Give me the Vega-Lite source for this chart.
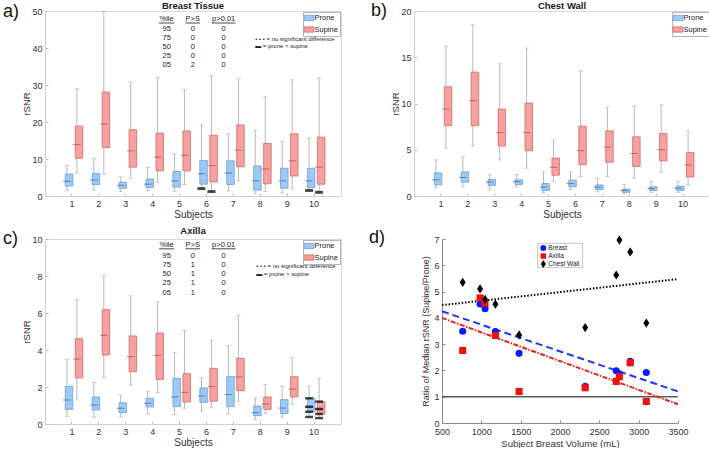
{
  "$schema": "https://vega.github.io/schema/vega-lite/v6.json",
  "padding": {"left": 2, "top": 0, "right": 0, "bottom": 0},
  "config": {
    "font": "Liberation Sans",
    "view": {"stroke": "#d9d9d9"},
    "title": {"fontSize": 9.5, "fontWeight": "bold", "color": "#1a1a1a", "frame": "group"},
    "axis": {"grid": false, "labelOverlap": false, "labelFontSize": 9, "titleFontSize": 10, "titleFontWeight": "normal", "labelColor": "#333333", "titleColor": "#333333", "domainColor": "#cfcfcf", "tickColor": "#bdbdbd", "tickSize": -3, "labelPadding": 6, "titlePadding": 1},
    "axisY": {"titleFontSize": 9.5, "titlePadding": 0},
    "legend": {"labelFontSize": 7.5, "labelColor": "#1a1a1a", "padding": 2, "rowPadding": 1.5, "strokeColor": "#b5b5b5", "fillColor": "#ffffff", "labelOffset": 1.5}
  },
  "datasets": {
    "breast": [
      {"subject": 1, "position": "Prone", "lo": 1.5, "q1": 2.7, "med": 4.0, "q3": 5.9, "hi": 8.3},
      {"subject": 1, "position": "Supine", "lo": 6.2, "q1": 10.2, "med": 13.9, "q3": 18.9, "hi": 29.0},
      {"subject": 2, "position": "Prone", "lo": 1.6, "q1": 3.1, "med": 4.3, "q3": 6.1, "hi": 10.1},
      {"subject": 2, "position": "Supine", "lo": 5.9, "q1": 13.1, "med": 19.5, "q3": 28.1, "hi": 50.0},
      {"subject": 3, "position": "Prone", "lo": 1.2, "q1": 2.1, "med": 2.9, "q3": 3.7, "hi": 5.2},
      {"subject": 3, "position": "Supine", "lo": 4.7, "q1": 7.8, "med": 12.2, "q3": 17.9, "hi": 30.8},
      {"subject": 4, "position": "Prone", "lo": 1.4, "q1": 2.3, "med": 3.2, "q3": 4.6, "hi": 7.7},
      {"subject": 4, "position": "Supine", "lo": 3.7, "q1": 6.8, "med": 10.5, "q3": 17.0, "hi": 32.0},
      {"subject": 5, "position": "Prone", "lo": 1.2, "q1": 2.4, "med": 4.1, "q3": 6.6, "hi": 11.4},
      {"subject": 5, "position": "Supine", "lo": 3.1, "q1": 6.8, "med": 11.0, "q3": 17.6, "hi": 28.8},
      {"subject": 6, "position": "Prone", "lo": 2.0, "q1": 3.2, "med": 6.0, "q3": 9.6, "hi": 19.2},
      {"subject": 6, "position": "Supine", "lo": 1.2, "q1": 3.8, "med": 8.2, "q3": 16.4, "hi": 32.5},
      {"subject": 7, "position": "Prone", "lo": 1.4, "q1": 3.1, "med": 6.2, "q3": 9.5, "hi": 16.8},
      {"subject": 7, "position": "Supine", "lo": 4.1, "q1": 7.9, "med": 12.4, "q3": 19.2, "hi": 31.7},
      {"subject": 8, "position": "Prone", "lo": 0.6, "q1": 1.6, "med": 4.1, "q3": 8.1, "hi": 17.8},
      {"subject": 8, "position": "Supine", "lo": 1.2, "q1": 3.3, "med": 7.3, "q3": 14.2, "hi": 26.8},
      {"subject": 9, "position": "Prone", "lo": 0.8, "q1": 2.1, "med": 4.1, "q3": 7.5, "hi": 14.7},
      {"subject": 9, "position": "Supine", "lo": 1.9, "q1": 5.4, "med": 9.5, "q3": 16.8, "hi": 31.4},
      {"subject": 10, "position": "Prone", "lo": 1.5, "q1": 2.3, "med": 4.1, "q3": 7.5, "hi": 15.6},
      {"subject": 10, "position": "Supine", "lo": 1.0, "q1": 3.2, "med": 7.8, "q3": 15.9, "hi": 31.9}
    ],
    "chest": [
      {"subject": 1, "position": "Prone", "lo": 0.9, "q1": 1.2, "med": 1.75, "q3": 2.5, "hi": 3.9},
      {"subject": 1, "position": "Supine", "lo": 5.2, "q1": 7.6, "med": 9.4, "q3": 11.8, "hi": 16.2},
      {"subject": 2, "position": "Prone", "lo": 1.0, "q1": 1.5, "med": 2.0, "q3": 2.6, "hi": 4.25},
      {"subject": 2, "position": "Supine", "lo": 5.4, "q1": 7.6, "med": 10.3, "q3": 13.4, "hi": 18.5},
      {"subject": 3, "position": "Prone", "lo": 0.65, "q1": 1.15, "med": 1.5, "q3": 1.8, "hi": 2.3},
      {"subject": 3, "position": "Supine", "lo": 3.9, "q1": 5.4, "med": 6.85, "q3": 9.4, "hi": 14.3},
      {"subject": 4, "position": "Prone", "lo": 1.0, "q1": 1.25, "med": 1.55, "q3": 1.75, "hi": 2.3},
      {"subject": 4, "position": "Supine", "lo": 3.0, "q1": 4.9, "med": 6.85, "q3": 10.05, "hi": 16.0},
      {"subject": 5, "position": "Prone", "lo": 0.35, "q1": 0.6, "med": 0.95, "q3": 1.35, "hi": 2.6},
      {"subject": 5, "position": "Supine", "lo": 1.55, "q1": 2.25, "med": 3.1, "q3": 4.1, "hi": 6.05},
      {"subject": 6, "position": "Prone", "lo": 0.7, "q1": 1.0, "med": 1.35, "q3": 1.7, "hi": 2.6},
      {"subject": 6, "position": "Supine", "lo": 2.1, "q1": 3.4, "med": 4.9, "q3": 7.55, "hi": 13.55},
      {"subject": 7, "position": "Prone", "lo": 0.45, "q1": 0.7, "med": 0.95, "q3": 1.2, "hi": 1.9},
      {"subject": 7, "position": "Supine", "lo": 2.1, "q1": 3.65, "med": 5.3, "q3": 7.05, "hi": 9.6},
      {"subject": 8, "position": "Prone", "lo": 0.25, "q1": 0.4, "med": 0.6, "q3": 0.75, "hi": 1.25},
      {"subject": 8, "position": "Supine", "lo": 1.95, "q1": 3.2, "med": 4.6, "q3": 6.4, "hi": 9.7},
      {"subject": 9, "position": "Prone", "lo": 0.35, "q1": 0.6, "med": 0.8, "q3": 1.0, "hi": 1.55},
      {"subject": 9, "position": "Supine", "lo": 2.6, "q1": 3.8, "med": 5.0, "q3": 6.75, "hi": 9.85},
      {"subject": 10, "position": "Prone", "lo": 0.4, "q1": 0.6, "med": 0.85, "q3": 1.05, "hi": 1.6},
      {"subject": 10, "position": "Supine", "lo": 1.2, "q1": 2.05, "med": 3.35, "q3": 4.7, "hi": 7.05}
    ],
    "axilla": [
      {"subject": 1, "position": "Prone", "lo": 0.41, "q1": 0.79, "med": 1.30, "q3": 2.04, "hi": 3.48},
      {"subject": 1, "position": "Supine", "lo": 1.30, "q1": 2.49, "med": 3.51, "q3": 4.61, "hi": 6.72},
      {"subject": 2, "position": "Prone", "lo": 0.36, "q1": 0.76, "med": 1.03, "q3": 1.46, "hi": 2.25},
      {"subject": 2, "position": "Supine", "lo": 2.52, "q1": 3.73, "med": 4.79, "q3": 6.18, "hi": 8.04},
      {"subject": 3, "position": "Prone", "lo": 0.38, "q1": 0.61, "med": 0.85, "q3": 1.15, "hi": 1.57},
      {"subject": 3, "position": "Supine", "lo": 2.11, "q1": 2.83, "med": 3.64, "q3": 4.76, "hi": 6.92},
      {"subject": 4, "position": "Prone", "lo": 0.54, "q1": 0.92, "med": 1.12, "q3": 1.39, "hi": 1.77},
      {"subject": 4, "position": "Supine", "lo": 1.69, "q1": 2.41, "med": 3.71, "q3": 4.92, "hi": 6.59},
      {"subject": 5, "position": "Prone", "lo": 0.50, "q1": 0.94, "med": 1.46, "q3": 2.47, "hi": 3.87},
      {"subject": 5, "position": "Supine", "lo": 0.85, "q1": 1.19, "med": 1.71, "q3": 2.72, "hi": 5.05},
      {"subject": 6, "position": "Prone", "lo": 0.70, "q1": 1.17, "med": 1.51, "q3": 1.95, "hi": 2.50},
      {"subject": 6, "position": "Supine", "lo": 0.88, "q1": 1.23, "med": 2.02, "q3": 3.01, "hi": 4.52},
      {"subject": 7, "position": "Prone", "lo": 0.54, "q1": 0.94, "med": 1.59, "q3": 2.56, "hi": 4.25},
      {"subject": 7, "position": "Supine", "lo": 1.21, "q1": 1.80, "med": 2.54, "q3": 3.55, "hi": 5.87},
      {"subject": 8, "position": "Prone", "lo": 0.25, "q1": 0.45, "med": 0.61, "q3": 0.97, "hi": 1.41},
      {"subject": 8, "position": "Supine", "lo": 0.56, "q1": 0.79, "med": 1.08, "q3": 1.46, "hi": 2.14},
      {"subject": 9, "position": "Prone", "lo": 0.36, "q1": 0.56, "med": 0.86, "q3": 1.32, "hi": 2.04},
      {"subject": 9, "position": "Supine", "lo": 1.05, "q1": 1.46, "med": 1.89, "q3": 2.56, "hi": 3.60},
      {"subject": 10, "position": "Prone", "lo": 0.38, "q1": 0.66, "med": 0.93, "q3": 1.39, "hi": 2.05},
      {"subject": 10, "position": "Supine", "lo": 0.32, "q1": 0.54, "med": 0.81, "q3": 1.21, "hi": 2.48}
    ],
    "flagsA": [
      {"subject": 6, "position": "Prone", "value": 2.0},
      {"subject": 6, "position": "Supine", "value": 1.2},
      {"subject": 10, "position": "Prone", "value": 1.5},
      {"subject": 10, "position": "Supine", "value": 1.0}
    ],
    "flagsC": [
      {"subject": 10, "position": "Prone", "value": 1.39},
      {"subject": 10, "position": "Prone", "value": 0.93},
      {"subject": 10, "position": "Prone", "value": 0.66},
      {"subject": 10, "position": "Prone", "value": 0.38},
      {"subject": 10, "position": "Supine", "value": 1.21},
      {"subject": 10, "position": "Supine", "value": 0.81},
      {"subject": 10, "position": "Supine", "value": 0.54},
      {"subject": 10, "position": "Supine", "value": 0.32}
    ],
    "tableA": [
      {"col": "%ile", "cells": ["95", "75", "50", "25", "05"]},
      {"col": "P>S", "cells": ["0", "0", "0", "0", "2"]},
      {"col": "p>0.01", "cells": ["0", "0", "0", "0", "0"]}
    ],
    "tableC": [
      {"col": "%ile", "cells": ["95", "75", "50", "25", "05"]},
      {"col": "P>S", "cells": ["0", "1", "1", "1", "1"]},
      {"col": "p>0.01", "cells": ["0", "0", "0", "0", "0"]}
    ],
    "notes": [
      {"key": "ns", "note": "• • • = no significant difference"},
      {"key": "ps", "note": "▬ = prone > supine"}
    ],
    "panels": [{"panel": "a)"}, {"panel": "b)"}, {"panel": "c)"}, {"panel": "d)"}],
    "keyD": [{"region": "Breast"}, {"region": "Axilla"}, {"region": "Chest Wall"}],
    "ratio": [
      {"region": "Breast", "volume": 763, "ratio": 3.49},
      {"region": "Breast", "volume": 984, "ratio": 4.53},
      {"region": "Breast", "volume": 1047, "ratio": 4.35},
      {"region": "Breast", "volume": 1179, "ratio": 3.48},
      {"region": "Breast", "volume": 1480, "ratio": 2.65},
      {"region": "Breast", "volume": 2320, "ratio": 1.40},
      {"region": "Breast", "volume": 2715, "ratio": 1.99},
      {"region": "Breast", "volume": 2755, "ratio": 1.87},
      {"region": "Breast", "volume": 2893, "ratio": 2.35},
      {"region": "Breast", "volume": 3097, "ratio": 1.92},
      {"region": "Axilla", "volume": 763, "ratio": 2.76},
      {"region": "Axilla", "volume": 984, "ratio": 4.76},
      {"region": "Axilla", "volume": 1047, "ratio": 4.56},
      {"region": "Axilla", "volume": 1179, "ratio": 3.33},
      {"region": "Axilla", "volume": 1480, "ratio": 1.20},
      {"region": "Axilla", "volume": 2320, "ratio": 1.34},
      {"region": "Axilla", "volume": 2715, "ratio": 1.58},
      {"region": "Axilla", "volume": 2755, "ratio": 1.76},
      {"region": "Axilla", "volume": 2893, "ratio": 2.29},
      {"region": "Axilla", "volume": 3097, "ratio": 0.82},
      {"region": "Chest Wall", "volume": 763, "ratio": 5.35},
      {"region": "Chest Wall", "volume": 984, "ratio": 5.10},
      {"region": "Chest Wall", "volume": 1047, "ratio": 4.70},
      {"region": "Chest Wall", "volume": 1179, "ratio": 4.52},
      {"region": "Chest Wall", "volume": 1480, "ratio": 3.35},
      {"region": "Chest Wall", "volume": 2320, "ratio": 3.63},
      {"region": "Chest Wall", "volume": 2715, "ratio": 5.63},
      {"region": "Chest Wall", "volume": 2755, "ratio": 6.96},
      {"region": "Chest Wall", "volume": 2893, "ratio": 6.51},
      {"region": "Chest Wall", "volume": 3097, "ratio": 3.80}
    ],
    "reference": [{"ratio": 1}]
  },
  "resolve": {
    "scale": {"x": "independent", "y": "independent", "xOffset": "independent", "fill": "independent", "stroke": "independent", "color": "independent", "shape": "independent", "strokeDash": "independent"},
    "legend": {"fill": "independent", "stroke": "independent", "color": "independent", "shape": "independent", "strokeDash": "independent"}
  },
  "spacing": 5,
  "vconcat": [
    {
      "bounds": "flush",
      "spacing": 73,
      "resolve": {
        "scale": {"x": "independent", "y": "independent", "xOffset": "independent", "fill": "independent", "stroke": "independent", "color": "independent", "shape": "independent", "strokeDash": "independent"},
        "legend": {"fill": "independent", "stroke": "independent", "color": "independent", "shape": "independent", "strokeDash": "independent"}
      },
      "hconcat": [
        {
          "width": 296,
          "height": 185,
          "title": {"text": "Breast Tissue", "offset": -7.8},
          "resolve": {"scale": {"x": "independent", "y": "independent"}},
          "layer": [
            {
              "data": {"name": "breast"},
              "encoding": {
                "x": {"field": "subject", "type": "ordinal", "title": "Subjects", "scale": {"paddingInner": 0, "paddingOuter": 0.5}, "axis": {"labelAngle": 0, "tickBand": "center", "labelOverlap": false}},
                "xOffset": {"field": "position", "type": "nominal", "scale": {"domain": ["Prone", "Supine"], "paddingInner": 0, "paddingOuter": 0.345}}
              },
              "layer": [
                {"mark": {"type": "rule", "color": "#b9b9b9", "strokeWidth": 1},
                 "encoding": {"y": {"field": "lo", "type": "quantitative", "title": "rSNR", "scale": {"domain": [0, 50], "nice": false}, "axis": {"values": [0, 10, 20, 30, 40, 50], "tickCount": 20, "format": "d", "labelOverlap": false}}, "y2": {"field": "hi"}}},
                {"mark": {"type": "tick", "orient": "horizontal", "size": 4.5, "thickness": 1, "color": "#b9b9b9"},
                 "encoding": {"y": {"field": "lo", "type": "quantitative", "title": "rSNR"}}},
                {"mark": {"type": "tick", "orient": "horizontal", "size": 4.5, "thickness": 1, "color": "#b9b9b9"},
                 "encoding": {"y": {"field": "hi", "type": "quantitative", "title": "rSNR"}}},
                {"mark": {"type": "bar", "width": {"band": 0.75}, "strokeWidth": 0.8},
                 "encoding": {
                   "y": {"field": "q1", "type": "quantitative", "title": "rSNR"}, "y2": {"field": "q3"},
                   "fill": {"field": "position", "type": "nominal", "scale": {"domain": ["Prone", "Supine"], "range": ["#9dc9f2", "#f6a0a0"]}, "legend": {"title": null, "orient": "top-right", "offset": 1, "symbolType": "M-1.4,-0.75H1.4V0.75H-1.4Z", "symbolSize": 49, "symbolStrokeWidth": 0.8, "rowPadding": 1.5}},
                   "stroke": {"field": "position", "type": "nominal", "scale": {"domain": ["Prone", "Supine"], "range": ["#6c9fd6", "#d06a6a"]}, "legend": {"title": null, "orient": "top-right", "offset": 1, "symbolType": "M-1.4,-0.75H1.4V0.75H-1.4Z", "symbolSize": 49, "symbolStrokeWidth": 0.8, "rowPadding": 1.5}}
                 }},
                {"mark": {"type": "tick", "orient": "horizontal", "size": 7.5, "thickness": 1.1},
                 "encoding": {"y": {"field": "med", "type": "quantitative", "title": "rSNR"}, "color": {"field": "position", "type": "nominal", "scale": {"domain": ["Prone", "Supine"], "range": ["#3b6ea5", "#b84c4c"]}, "legend": null}}},
                {"data": {"name": "flagsA"}, "mark": {"type": "tick", "orient": "horizontal", "size": 8, "thickness": 3, "color": "#000000"},
                 "encoding": {"y": {"field": "value", "type": "quantitative", "title": "rSNR"}}}
              ]
            },
            {
              "layer": [
                {"data": {"name": "tableA"}, "transform": [{"filter": "datum.col === '%ile'"}],
                 "layer": [
                   {"mark": {"type": "text", "fontSize": 7.5, "align": "center", "baseline": "middle", "color": "#1a1a1a"},
                    "encoding": {"x": {"datum": 4.52, "type": "quantitative", "scale": {"domain": [0, 11], "nice": false, "zero": false}, "axis": null}, "y": {"datum": 47.84, "type": "quantitative", "scale": {"domain": [0, 50], "nice": false}, "axis": null}, "text": {"field": "col"}}},
                   {"mark": {"type": "text", "fontSize": 7.5, "align": "center", "baseline": "top", "lineHeight": 9, "color": "#1a1a1a"},
                    "encoding": {"x": {"datum": 4.52, "type": "quantitative", "scale": {"domain": [0, 11], "nice": false, "zero": false}, "axis": null}, "y": {"datum": 46.27, "type": "quantitative", "scale": {"domain": [0, 50], "nice": false}, "axis": null}, "text": {"field": "cells"}}},
                   {"mark": {"type": "rule", "color": "#1a1a1a", "strokeWidth": 0.8},
                    "encoding": {"x": {"datum": 4.24, "type": "quantitative", "scale": {"domain": [0, 11], "nice": false, "zero": false}, "axis": null}, "x2": {"datum": 4.8}, "y": {"datum": 46.76, "type": "quantitative", "scale": {"domain": [0, 50], "nice": false}, "axis": null}}}
                 ]},
                {"data": {"name": "tableA"}, "transform": [{"filter": "datum.col === 'P>S'"}],
                 "layer": [
                   {"mark": {"type": "text", "fontSize": 7.5, "align": "center", "baseline": "middle", "color": "#1a1a1a"},
                    "encoding": {"x": {"datum": 5.49, "type": "quantitative", "scale": {"domain": [0, 11], "nice": false, "zero": false}, "axis": null}, "y": {"datum": 47.84, "type": "quantitative", "scale": {"domain": [0, 50], "nice": false}, "axis": null}, "text": {"field": "col"}}},
                   {"mark": {"type": "text", "fontSize": 7.5, "align": "center", "baseline": "top", "lineHeight": 9, "color": "#1a1a1a"},
                    "encoding": {"x": {"datum": 5.49, "type": "quantitative", "scale": {"domain": [0, 11], "nice": false, "zero": false}, "axis": null}, "y": {"datum": 46.27, "type": "quantitative", "scale": {"domain": [0, 50], "nice": false}, "axis": null}, "text": {"field": "cells"}}},
                   {"mark": {"type": "rule", "color": "#1a1a1a", "strokeWidth": 0.8},
                    "encoding": {"x": {"datum": 5.22, "type": "quantitative", "scale": {"domain": [0, 11], "nice": false, "zero": false}, "axis": null}, "x2": {"datum": 5.76}, "y": {"datum": 46.76, "type": "quantitative", "scale": {"domain": [0, 50], "nice": false}, "axis": null}}}
                 ]},
                {"data": {"name": "tableA"}, "transform": [{"filter": "datum.col === 'p>0.01'"}],
                 "layer": [
                   {"mark": {"type": "text", "fontSize": 7.5, "align": "center", "baseline": "middle", "color": "#1a1a1a"},
                    "encoding": {"x": {"datum": 6.64, "type": "quantitative", "scale": {"domain": [0, 11], "nice": false, "zero": false}, "axis": null}, "y": {"datum": 47.84, "type": "quantitative", "scale": {"domain": [0, 50], "nice": false}, "axis": null}, "text": {"field": "col"}}},
                   {"mark": {"type": "text", "fontSize": 7.5, "align": "center", "baseline": "top", "lineHeight": 9, "color": "#1a1a1a"},
                    "encoding": {"x": {"datum": 6.64, "type": "quantitative", "scale": {"domain": [0, 11], "nice": false, "zero": false}, "axis": null}, "y": {"datum": 46.27, "type": "quantitative", "scale": {"domain": [0, 50], "nice": false}, "axis": null}, "text": {"field": "cells"}}},
                   {"mark": {"type": "rule", "color": "#1a1a1a", "strokeWidth": 0.8},
                    "encoding": {"x": {"datum": 6.2, "type": "quantitative", "scale": {"domain": [0, 11], "nice": false, "zero": false}, "axis": null}, "x2": {"datum": 7.08}, "y": {"datum": 46.76, "type": "quantitative", "scale": {"domain": [0, 50], "nice": false}, "axis": null}}}
                 ]},
                {"data": {"name": "notes"}, "transform": [{"filter": "datum.key === 'ns'"}],
                 "mark": {"type": "text", "fontSize": 6, "align": "left", "baseline": "middle", "color": "#1a1a1a"},
                 "encoding": {"x": {"datum": 7.81, "type": "quantitative", "scale": {"domain": [0, 11], "nice": false, "zero": false}, "axis": null}, "y": {"datum": 42.4, "type": "quantitative", "scale": {"domain": [0, 50], "nice": false}, "axis": null}, "text": {"field": "note"}}},
                {"data": {"name": "notes"}, "transform": [{"filter": "datum.key === 'ps'"}],
                 "mark": {"type": "text", "fontSize": 6, "align": "left", "baseline": "middle", "color": "#1a1a1a"},
                 "encoding": {"x": {"datum": 7.81, "type": "quantitative", "scale": {"domain": [0, 11], "nice": false, "zero": false}, "axis": null}, "y": {"datum": 40.5, "type": "quantitative", "scale": {"domain": [0, 50], "nice": false}, "axis": null}, "text": {"field": "note"}}},
                {"data": {"name": "panels"}, "transform": [{"filter": "datum.panel === 'a)'"}],
                 "mark": {"type": "text", "fontSize": 18, "align": "left", "baseline": "middle", "color": "#111111"},
                 "encoding": {"x": {"datum": -1.56, "type": "quantitative", "scale": {"domain": [0, 11], "nice": false, "zero": false}, "axis": null}, "y": {"datum": 49.84, "type": "quantitative", "scale": {"domain": [0, 50], "nice": false}, "axis": null}, "text": {"field": "panel"}}}
              ]
            }
          ]
        },
        {
          "width": 296,
          "height": 185,
          "title": {"text": "Chest Wall", "offset": -8.4},
          "resolve": {"scale": {"x": "independent", "y": "independent"}},
          "layer": [
            {
              "data": {"name": "chest"},
              "encoding": {
                "x": {"field": "subject", "type": "ordinal", "title": "Subjects", "scale": {"paddingInner": 0, "paddingOuter": 0.5}, "axis": {"labelAngle": 0, "tickBand": "center", "labelOverlap": false}},
                "xOffset": {"field": "position", "type": "nominal", "scale": {"domain": ["Prone", "Supine"], "paddingInner": 0, "paddingOuter": 0.345}}
              },
              "layer": [
                {"mark": {"type": "rule", "color": "#b9b9b9", "strokeWidth": 1},
                 "encoding": {"y": {"field": "lo", "type": "quantitative", "title": "rSNR", "scale": {"domain": [0, 20], "nice": false}, "axis": {"values": [0, 5, 10, 15, 20], "tickCount": 20, "format": "d", "labelOverlap": false}}, "y2": {"field": "hi"}}},
                {"mark": {"type": "tick", "orient": "horizontal", "size": 4.5, "thickness": 1, "color": "#b9b9b9"},
                 "encoding": {"y": {"field": "lo", "type": "quantitative", "title": "rSNR"}}},
                {"mark": {"type": "tick", "orient": "horizontal", "size": 4.5, "thickness": 1, "color": "#b9b9b9"},
                 "encoding": {"y": {"field": "hi", "type": "quantitative", "title": "rSNR"}}},
                {"mark": {"type": "bar", "width": {"band": 0.75}, "strokeWidth": 0.8},
                 "encoding": {
                   "y": {"field": "q1", "type": "quantitative", "title": "rSNR"}, "y2": {"field": "q3"},
                   "fill": {"field": "position", "type": "nominal", "scale": {"domain": ["Prone", "Supine"], "range": ["#9dc9f2", "#f6a0a0"]}, "legend": {"title": null, "orient": "top-right", "offset": 1, "symbolType": "M-1.4,-0.75H1.4V0.75H-1.4Z", "symbolSize": 49, "symbolStrokeWidth": 0.8, "rowPadding": 1.5}},
                   "stroke": {"field": "position", "type": "nominal", "scale": {"domain": ["Prone", "Supine"], "range": ["#6c9fd6", "#d06a6a"]}, "legend": {"title": null, "orient": "top-right", "offset": 1, "symbolType": "M-1.4,-0.75H1.4V0.75H-1.4Z", "symbolSize": 49, "symbolStrokeWidth": 0.8, "rowPadding": 1.5}}
                 }},
                {"mark": {"type": "tick", "orient": "horizontal", "size": 7.5, "thickness": 1.1},
                 "encoding": {"y": {"field": "med", "type": "quantitative", "title": "rSNR"}, "color": {"field": "position", "type": "nominal", "scale": {"domain": ["Prone", "Supine"], "range": ["#3b6ea5", "#b84c4c"]}, "legend": null}}}
              ]
            },
            {
              "data": {"name": "panels"}, "transform": [{"filter": "datum.panel === 'b)'"}],
              "mark": {"type": "text", "fontSize": 18, "align": "left", "baseline": "middle", "color": "#111111"},
              "encoding": {"x": {"datum": -1.6, "type": "quantitative", "scale": {"domain": [0, 11], "nice": false, "zero": false}, "axis": null}, "y": {"datum": 20.0, "type": "quantitative", "scale": {"domain": [0, 20], "nice": false}, "axis": null}, "text": {"field": "panel"}}
            }
          ]
        }
      ]
    },
    {
      "bounds": "flush",
      "spacing": 101,
      "resolve": {
        "scale": {"x": "independent", "y": "independent", "xOffset": "independent", "fill": "independent", "stroke": "independent", "color": "independent", "shape": "independent", "strokeDash": "independent"},
        "legend": {"fill": "independent", "stroke": "independent", "color": "independent", "shape": "independent", "strokeDash": "independent"}
      },
      "hconcat": [
        {
          "width": 296,
          "height": 185,
          "title": {"text": "Axilla", "offset": -5.9},
          "resolve": {"scale": {"x": "independent", "y": "independent"}},
          "layer": [
            {
              "data": {"name": "axilla"},
              "encoding": {
                "x": {"field": "subject", "type": "ordinal", "title": "Subjects", "scale": {"paddingInner": 0, "paddingOuter": 0.5}, "axis": {"labelAngle": 0, "tickBand": "center", "labelOverlap": false}},
                "xOffset": {"field": "position", "type": "nominal", "scale": {"domain": ["Prone", "Supine"], "paddingInner": 0, "paddingOuter": 0.345}}
              },
              "layer": [
                {"mark": {"type": "rule", "color": "#b9b9b9", "strokeWidth": 1},
                 "encoding": {"y": {"field": "lo", "type": "quantitative", "title": "rSNR", "scale": {"domain": [0, 10], "nice": false}, "axis": {"values": [0, 2, 4, 6, 8, 10], "tickCount": 20, "format": "d", "labelOverlap": false}}, "y2": {"field": "hi"}}},
                {"mark": {"type": "tick", "orient": "horizontal", "size": 4.5, "thickness": 1, "color": "#b9b9b9"},
                 "encoding": {"y": {"field": "lo", "type": "quantitative", "title": "rSNR"}}},
                {"mark": {"type": "tick", "orient": "horizontal", "size": 4.5, "thickness": 1, "color": "#b9b9b9"},
                 "encoding": {"y": {"field": "hi", "type": "quantitative", "title": "rSNR"}}},
                {"mark": {"type": "bar", "width": {"band": 0.75}, "strokeWidth": 0.8},
                 "encoding": {
                   "y": {"field": "q1", "type": "quantitative", "title": "rSNR"}, "y2": {"field": "q3"},
                   "fill": {"field": "position", "type": "nominal", "scale": {"domain": ["Prone", "Supine"], "range": ["#9dc9f2", "#f6a0a0"]}, "legend": {"title": null, "orient": "top-right", "offset": 1, "symbolType": "M-1.4,-0.75H1.4V0.75H-1.4Z", "symbolSize": 49, "symbolStrokeWidth": 0.8, "rowPadding": 1.5}},
                   "stroke": {"field": "position", "type": "nominal", "scale": {"domain": ["Prone", "Supine"], "range": ["#6c9fd6", "#d06a6a"]}, "legend": {"title": null, "orient": "top-right", "offset": 1, "symbolType": "M-1.4,-0.75H1.4V0.75H-1.4Z", "symbolSize": 49, "symbolStrokeWidth": 0.8, "rowPadding": 1.5}}
                 }},
                {"mark": {"type": "tick", "orient": "horizontal", "size": 7.5, "thickness": 1.1},
                 "encoding": {"y": {"field": "med", "type": "quantitative", "title": "rSNR"}, "color": {"field": "position", "type": "nominal", "scale": {"domain": ["Prone", "Supine"], "range": ["#3b6ea5", "#b84c4c"]}, "legend": null}}},
                {"data": {"name": "flagsC"}, "mark": {"type": "tick", "orient": "horizontal", "size": 8, "thickness": 2.5, "color": "#000000"},
                 "encoding": {"y": {"field": "value", "type": "quantitative", "title": "rSNR"}}}
              ]
            },
            {
              "layer": [
                {"data": {"name": "tableC"}, "transform": [{"filter": "datum.col === '%ile'"}],
                 "layer": [
                   {"mark": {"type": "text", "fontSize": 7.5, "align": "center", "baseline": "middle", "color": "#1a1a1a"},
                    "encoding": {"x": {"datum": 4.52, "type": "quantitative", "scale": {"domain": [0, 11], "nice": false, "zero": false}, "axis": null}, "y": {"datum": 9.69, "type": "quantitative", "scale": {"domain": [0, 10], "nice": false}, "axis": null}, "text": {"field": "col"}}},
                   {"mark": {"type": "text", "fontSize": 7.5, "align": "center", "baseline": "top", "lineHeight": 9.2, "color": "#1a1a1a"},
                    "encoding": {"x": {"datum": 4.52, "type": "quantitative", "scale": {"domain": [0, 11], "nice": false, "zero": false}, "axis": null}, "y": {"datum": 9.31, "type": "quantitative", "scale": {"domain": [0, 10], "nice": false}, "axis": null}, "text": {"field": "cells"}}},
                   {"mark": {"type": "rule", "color": "#1a1a1a", "strokeWidth": 0.8},
                    "encoding": {"x": {"datum": 4.24, "type": "quantitative", "scale": {"domain": [0, 11], "nice": false, "zero": false}, "axis": null}, "x2": {"datum": 4.8}, "y": {"datum": 9.47, "type": "quantitative", "scale": {"domain": [0, 10], "nice": false}, "axis": null}}}
                 ]},
                {"data": {"name": "tableC"}, "transform": [{"filter": "datum.col === 'P>S'"}],
                 "layer": [
                   {"mark": {"type": "text", "fontSize": 7.5, "align": "center", "baseline": "middle", "color": "#1a1a1a"},
                    "encoding": {"x": {"datum": 5.49, "type": "quantitative", "scale": {"domain": [0, 11], "nice": false, "zero": false}, "axis": null}, "y": {"datum": 9.69, "type": "quantitative", "scale": {"domain": [0, 10], "nice": false}, "axis": null}, "text": {"field": "col"}}},
                   {"mark": {"type": "text", "fontSize": 7.5, "align": "center", "baseline": "top", "lineHeight": 9.2, "color": "#1a1a1a"},
                    "encoding": {"x": {"datum": 5.49, "type": "quantitative", "scale": {"domain": [0, 11], "nice": false, "zero": false}, "axis": null}, "y": {"datum": 9.31, "type": "quantitative", "scale": {"domain": [0, 10], "nice": false}, "axis": null}, "text": {"field": "cells"}}},
                   {"mark": {"type": "rule", "color": "#1a1a1a", "strokeWidth": 0.8},
                    "encoding": {"x": {"datum": 5.22, "type": "quantitative", "scale": {"domain": [0, 11], "nice": false, "zero": false}, "axis": null}, "x2": {"datum": 5.76}, "y": {"datum": 9.47, "type": "quantitative", "scale": {"domain": [0, 10], "nice": false}, "axis": null}}}
                 ]},
                {"data": {"name": "tableC"}, "transform": [{"filter": "datum.col === 'p>0.01'"}],
                 "layer": [
                   {"mark": {"type": "text", "fontSize": 7.5, "align": "center", "baseline": "middle", "color": "#1a1a1a"},
                    "encoding": {"x": {"datum": 6.64, "type": "quantitative", "scale": {"domain": [0, 11], "nice": false, "zero": false}, "axis": null}, "y": {"datum": 9.69, "type": "quantitative", "scale": {"domain": [0, 10], "nice": false}, "axis": null}, "text": {"field": "col"}}},
                   {"mark": {"type": "text", "fontSize": 7.5, "align": "center", "baseline": "top", "lineHeight": 9.2, "color": "#1a1a1a"},
                    "encoding": {"x": {"datum": 6.64, "type": "quantitative", "scale": {"domain": [0, 11], "nice": false, "zero": false}, "axis": null}, "y": {"datum": 9.31, "type": "quantitative", "scale": {"domain": [0, 10], "nice": false}, "axis": null}, "text": {"field": "cells"}}},
                   {"mark": {"type": "rule", "color": "#1a1a1a", "strokeWidth": 0.8},
                    "encoding": {"x": {"datum": 6.2, "type": "quantitative", "scale": {"domain": [0, 11], "nice": false, "zero": false}, "axis": null}, "x2": {"datum": 7.08}, "y": {"datum": 9.47, "type": "quantitative", "scale": {"domain": [0, 10], "nice": false}, "axis": null}}}
                 ]},
                {"data": {"name": "notes"}, "transform": [{"filter": "datum.key === 'ns'"}],
                 "mark": {"type": "text", "fontSize": 6, "align": "left", "baseline": "middle", "color": "#1a1a1a"},
                 "encoding": {"x": {"datum": 7.85, "type": "quantitative", "scale": {"domain": [0, 11], "nice": false, "zero": false}, "axis": null}, "y": {"datum": 8.52, "type": "quantitative", "scale": {"domain": [0, 10], "nice": false}, "axis": null}, "text": {"field": "note"}}},
                {"data": {"name": "notes"}, "transform": [{"filter": "datum.key === 'ps'"}],
                 "mark": {"type": "text", "fontSize": 6, "align": "left", "baseline": "middle", "color": "#1a1a1a"},
                 "encoding": {"x": {"datum": 7.85, "type": "quantitative", "scale": {"domain": [0, 11], "nice": false, "zero": false}, "axis": null}, "y": {"datum": 8.11, "type": "quantitative", "scale": {"domain": [0, 10], "nice": false}, "axis": null}, "text": {"field": "note"}}},
                {"data": {"name": "panels"}, "transform": [{"filter": "datum.panel === 'c)'"}],
                 "mark": {"type": "text", "fontSize": 18, "align": "left", "baseline": "middle", "color": "#111111"},
                 "encoding": {"x": {"datum": -1.56, "type": "quantitative", "scale": {"domain": [0, 11], "nice": false, "zero": false}, "axis": null}, "y": {"datum": 10.0, "type": "quantitative", "scale": {"domain": [0, 10], "nice": false}, "axis": null}, "text": {"field": "panel"}}}
              ]
            }
          ]
        },
        {
          "width": 236,
          "height": 184,
          "view": {"stroke": null},
          "layer": [
            {"data": {"name": "reference"},
             "mark": {"type": "rule", "color": "#5a5a5a", "strokeWidth": 1.5},
             "encoding": {"y": {"field": "ratio", "type": "quantitative", "title": "Ratio of Median rSNR (Supine/Prone)", "scale": {"domain": [0, 7], "nice": false}, "axis": {"values": [0, 1, 2, 3, 4, 5, 6, 7], "tickCount": 20, "format": "d", "labelOverlap": false, "titleFontSize": 9, "titlePadding": 3, "labelPadding": 6, "domainColor": "#8c8c8c", "tickColor": "#8c8c8c"}}}},
            {"data": {"name": "ratio"},
             "transform": [{"regression": "ratio", "on": "volume", "groupby": ["region"], "extent": [500, 3500]}],
             "mark": {"type": "line", "strokeWidth": 2},
             "encoding": {
               "x": {"field": "volume", "type": "quantitative", "title": "Subject Breast Volume (mL)", "scale": {"domain": [500, 3500], "nice": false, "zero": false}, "axis": {"values": [500, 1000, 1500, 2000, 2500, 3000, 3500], "tickCount": 20, "labelOverlap": false, "format": "d", "labelFlush": false, "labelPadding": 7, "titleFontSize": 9.5, "titlePadding": 2, "domainColor": "#8c8c8c", "tickColor": "#8c8c8c"}},
               "y": {"field": "ratio", "type": "quantitative", "title": "Ratio of Median rSNR (Supine/Prone)"},
               "stroke": {"field": "region", "type": "nominal", "scale": {"domain": ["Breast", "Axilla", "Chest Wall"], "range": ["#1f35f5", "#e8231d", "#000000"]}, "legend": null},
               "strokeDash": {"field": "region", "type": "nominal", "scale": {"domain": ["Breast", "Axilla", "Chest Wall"], "range": [[7, 4], [5, 1.5, 1.5, 1.5], [1.5, 1.8]]}, "legend": null}
             }},
            {"data": {"name": "ratio"},
             "mark": {"type": "point", "filled": true, "opacity": 1, "size": 50},
             "encoding": {
               "x": {"field": "volume", "type": "quantitative", "title": "Subject Breast Volume (mL)"},
               "y": {"field": "ratio", "type": "quantitative", "title": "Ratio of Median rSNR (Supine/Prone)"},
               "color": {"field": "region", "type": "nominal", "scale": {"domain": ["Breast", "Axilla", "Chest Wall"], "range": ["#0a1cff", "#f01010", "#000000"]}, "legend": null},
               "shape": {"field": "region", "type": "nominal", "scale": {"domain": ["Breast", "Axilla", "Chest Wall"], "range": ["circle", "square", "M0,-1.3L0.85,0L0,1.3L-0.85,0Z"]}, "legend": null}
             }},
            {"data": {"name": "keyD"}, "transform": [{"filter": "datum.region === 'Breast'"}],
             "mark": {"type": "rect", "fill": "#ffffff", "stroke": "#b5b5b5", "strokeWidth": 0.8},
             "encoding": {"x": {"datum": 1716, "type": "quantitative", "title": "Subject Breast Volume (mL)"}, "x2": {"datum": 2288}, "y": {"datum": 6.835, "type": "quantitative", "title": "Ratio of Median rSNR (Supine/Prone)"}, "y2": {"datum": 5.922}}},
            {"data": {"name": "keyD"}, "transform": [{"filter": "datum.region === 'Breast'"}],
             "encoding": {"y": {"datum": 6.656, "type": "quantitative", "title": "Ratio of Median rSNR (Supine/Prone)"}},
             "layer": [
               {"mark": {"type": "point", "filled": true, "opacity": 1, "size": 36},
                "encoding": {"x": {"datum": 1788, "type": "quantitative", "title": "Subject Breast Volume (mL)"},
                  "color": {"field": "region", "type": "nominal", "scale": {"domain": ["Breast", "Axilla", "Chest Wall"], "range": ["#0a1cff", "#f01010", "#000000"]}, "legend": null},
                  "shape": {"field": "region", "type": "nominal", "scale": {"domain": ["Breast", "Axilla", "Chest Wall"], "range": ["circle", "square", "M0,-1.3L0.85,0L0,1.3L-0.85,0Z"]}, "legend": null}}},
               {"mark": {"type": "text", "fontSize": 6.5, "align": "left", "baseline": "middle", "color": "#1a1a1a"},
                "encoding": {"x": {"datum": 1851, "type": "quantitative", "title": "Subject Breast Volume (mL)"}, "text": {"field": "region"}}}
             ]},
            {"data": {"name": "keyD"}, "transform": [{"filter": "datum.region === 'Axilla'"}],
             "encoding": {"y": {"datum": 6.352, "type": "quantitative", "title": "Ratio of Median rSNR (Supine/Prone)"}},
             "layer": [
               {"mark": {"type": "point", "filled": true, "opacity": 1, "size": 30},
                "encoding": {"x": {"datum": 1788, "type": "quantitative", "title": "Subject Breast Volume (mL)"},
                  "color": {"field": "region", "type": "nominal", "scale": {"domain": ["Breast", "Axilla", "Chest Wall"], "range": ["#0a1cff", "#f01010", "#000000"]}, "legend": null},
                  "shape": {"field": "region", "type": "nominal", "scale": {"domain": ["Breast", "Axilla", "Chest Wall"], "range": ["circle", "square", "M0,-1.3L0.85,0L0,1.3L-0.85,0Z"]}, "legend": null}}},
               {"mark": {"type": "text", "fontSize": 6.5, "align": "left", "baseline": "middle", "color": "#1a1a1a"},
                "encoding": {"x": {"datum": 1851, "type": "quantitative", "title": "Subject Breast Volume (mL)"}, "text": {"field": "region"}}}
             ]},
            {"data": {"name": "keyD"}, "transform": [{"filter": "datum.region === 'Chest Wall'"}],
             "encoding": {"y": {"datum": 6.048, "type": "quantitative", "title": "Ratio of Median rSNR (Supine/Prone)"}},
             "layer": [
               {"mark": {"type": "point", "filled": true, "opacity": 1, "size": 36},
                "encoding": {"x": {"datum": 1788, "type": "quantitative", "title": "Subject Breast Volume (mL)"},
                  "color": {"field": "region", "type": "nominal", "scale": {"domain": ["Breast", "Axilla", "Chest Wall"], "range": ["#0a1cff", "#f01010", "#000000"]}, "legend": null},
                  "shape": {"field": "region", "type": "nominal", "scale": {"domain": ["Breast", "Axilla", "Chest Wall"], "range": ["circle", "square", "M0,-1.3L0.85,0L0,1.3L-0.85,0Z"]}, "legend": null}}},
               {"mark": {"type": "text", "fontSize": 6.5, "align": "left", "baseline": "middle", "color": "#1a1a1a"},
                "encoding": {"x": {"datum": 1851, "type": "quantitative", "title": "Subject Breast Volume (mL)"}, "text": {"field": "region"}}}
             ]},
            {"data": {"name": "panels"}, "transform": [{"filter": "datum.panel === 'd)'"}],
             "mark": {"type": "text", "fontSize": 18, "align": "left", "baseline": "middle", "color": "#111111"},
             "encoding": {"x": {"datum": -428, "type": "quantitative", "title": "Subject Breast Volume (mL)"}, "y": {"datum": 7.05, "type": "quantitative", "title": "Ratio of Median rSNR (Supine/Prone)"}, "text": {"field": "panel"}}}
          ]
        }
      ]
    }
  ]
}
